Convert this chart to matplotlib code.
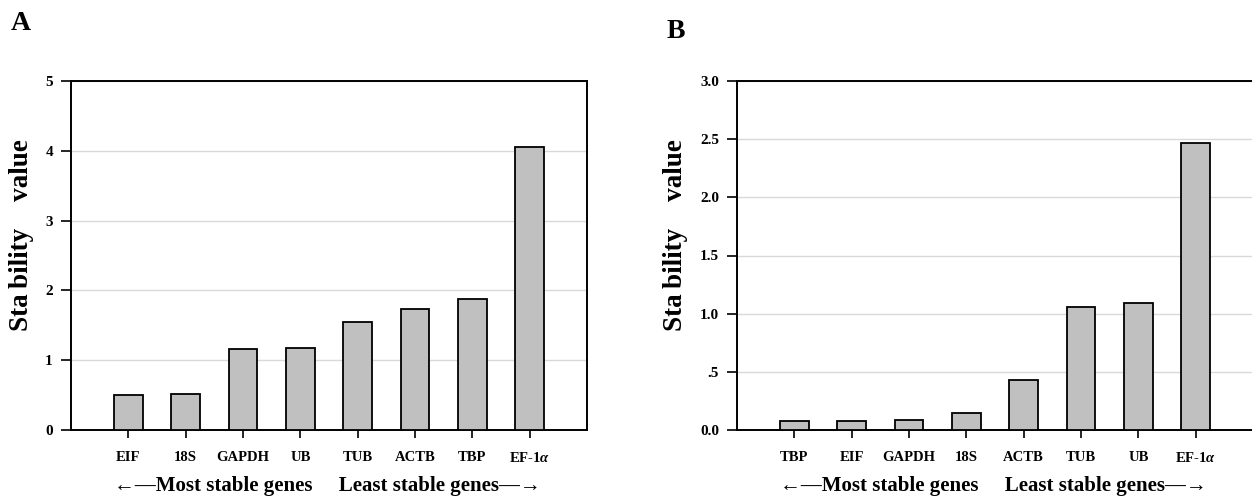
import matplotlib
matplotlib.use("Agg")
import matplotlib.pyplot as plt
import numpy as np

# -----------------------------------------------------
# data
# -----------------------------------------------------

genes_a = ["EIF", "18S", "GAPDH", "UB", "TUB", "ACTB", "TBP", "EF-1$\\alpha$"]
values_a = [0.50, 0.52, 1.16, 1.18, 1.55, 1.74, 1.88, 4.06]

genes_b = ["TBP", "EIF", "GAPDH", "18S", "ACTB", "TUB", "UB", "EF-1$\\alpha$"]
values_b = [0.08, 0.08, 0.09, 0.15, 0.43, 1.06, 1.09, 2.47]

yticks_a = [0, 1, 2, 3, 4, 5]
ytick_labels_a = ["0", "1", "2", "3", "4", "5"]
yticks_b = [0.0, 0.5, 1.0, 1.5, 2.0, 2.5, 3.0]
ytick_labels_b = ["0.0", ".5", "1.0", "1.5", "2.0", "2.5", "3.0"]

xlabel = "\u2190\u2014Most stable genes     Least stable genes\u2014\u2192"
ylabel = "Sta\u2009bility    value"

# -----------------------------------------------------
# style
# -----------------------------------------------------

plt.rcParams['font.family'] = ['Liberation Serif', 'DejaVu Serif']
plt.rcParams['font.weight'] = 'bold'
plt.rcParams['mathtext.fontset'] = 'custom'
plt.rcParams['mathtext.it'] = 'Liberation Serif:italic:bold'
plt.rcParams['mathtext.rm'] = 'Liberation Serif:bold'

W, H = 1252, 500
fig = plt.figure(figsize=(W / 100, H / 100), dpi=100)


def px_axes(left, top, right, bottom):
    return fig.add_axes([left / W, 1 - bottom / H, (right - left) / W, (bottom - top) / H])


def draw_panel(ax, genes, values, yticks, ylabels, ymax):
    x = np.arange(1, len(genes) + 1)
    ax.bar(x, values, width=0.5, color="#c0c0c0", edgecolor="black",
           linewidth=1.3, zorder=3)
    ax.set_xlim(0, len(genes) + 1)
    ax.set_ylim(0, ymax)
    ax.set_xticks(x)
    ax.set_xticklabels(genes, fontsize=10.5, fontweight='bold')
    ax.set_yticks(yticks)
    ax.set_yticklabels(ylabels, fontsize=11, fontweight='bold')
    ax.yaxis.grid(True, color="#d9d9d9", linewidth=1.0, zorder=0)
    ax.set_axisbelow(True)
    for s in ax.spines.values():
        s.set_linewidth(1.4)
    ax.tick_params(axis='x', length=6, width=1.2, pad=9)
    ax.tick_params(axis='y', length=7, width=1.2, pad=6)


# panel A
ax_a = px_axes(71, 81, 587, 430)
draw_panel(ax_a, genes_a, values_a, yticks_a, ytick_labels_a, 5)

# panel B
ax_b = px_axes(737, 81, 1253, 430)
draw_panel(ax_b, genes_b, values_b, yticks_b, ytick_labels_b, 3.0)

# labels
panels = [(ax_a, 22, "A", 11, 23), (ax_b, 676, "B", 667, 32)]
for ax, lx, letter, letter_x, letter_y in panels:
    fig.text(lx / W, 1 - 235 / H, ylabel, rotation=90, fontsize=19.5,
             fontweight='bold', ha='center', va='center')
    pos = ax.get_position()
    fig.text(pos.x0 + pos.width / 2 - (2 / W), 1 - 486 / H, xlabel, fontsize=15,
             fontweight='bold', ha='center', va='center')
    fig.text(letter_x / W, 1 - letter_y / H, letter, fontsize=20, fontweight='bold',
             ha='left', va='center')

plt.savefig("out.png", dpi=100)
plt.close()
